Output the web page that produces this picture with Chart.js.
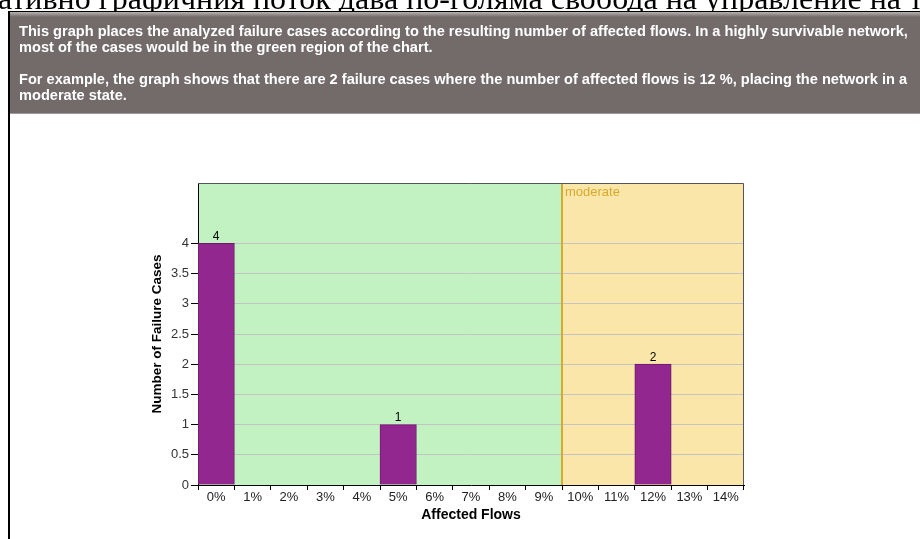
<!DOCTYPE html>
<html>
<head>
<meta charset="utf-8">
<script src="https://cdn.jsdelivr.net/npm/chart.js@4/dist/chart.umd.min.js"></script>
<style>
  html, body { margin:0; padding:0; width:920px; height:539px; overflow:hidden; background:#fff; }
  #cv { position:absolute; left:0; top:0; }
  #topline { position:absolute; left:-2px; top:-18px; white-space:nowrap; font-family:"Liberation Serif","DejaVu Serif",serif; font-size:32px; line-height:32px; color:#000; }
  #leftbar { position:absolute; left:8px; top:11px; width:2px; height:540px; background:#000; }
  #box { position:absolute; left:10px; top:11px; width:930px; height:101px; background:#736a6a; border-top:1px solid #000; border-bottom:1px solid #9a9a9a; }
  #box .shade { position:absolute; left:0; top:0; right:0; height:5px; background:linear-gradient(#b8b4b4,#736a6a); }
  #box p { position:absolute; left:9px; margin:0; font-family:"Liberation Sans",Arial,sans-serif; font-weight:bold; font-size:14.6px; line-height:15.5px; color:#fff; white-space:nowrap; }
</style>
</head>
<body>
<canvas id="cv" width="920" height="539"></canvas>
<div id="topline">ативно графичния поток дава по-голяма свобода на управление на т</div>
<div id="box"><div class="shade"></div>
  <p style="top:12px">This graph places the analyzed failure cases according to the resulting number of affected flows. In a highly survivable network,<br>most of the cases would be in the green region of the chart.</p>
  <p style="top:60px">For example, the graph shows that there are 2 failure cases where the number of affected flows is 12 %, placing the network in a<br>moderate state.</p>
</div>
<div id="leftbar"></div>
<script>
const categories = ['0%','1%','2%','3%','4%','5%','6%','7%','8%','9%','10%','11%','12%','13%','14%'];
const failureCases = [4,0,0,0,0,1,0,0,0,0,0,0,2,0,0];
const regionStarts = [0, 10];
const regionLabels = ['', 'moderate'];
const yMax = 5;
const yLastTick = 4;

const regionColors = ['#c2f1c2', '#fbe6a9'];
const FONT = '"Liberation Sans", Arial, sans-serif';

const regionPlugin = {
  id: 'regions',
  beforeDraw(chart) {
    const {ctx, chartArea: a, scales: {x}} = chart;
    const half = (x.getPixelForValue(1) - x.getPixelForValue(0)) / 2;
    ctx.save();
    regionStarts.forEach((s, i) => {
      const x0 = i === 0 ? a.left : x.getPixelForValue(s) - half;
      const x1 = i + 1 < regionStarts.length ? x.getPixelForValue(regionStarts[i + 1]) - half : a.right;
      ctx.fillStyle = regionColors[i];
      ctx.fillRect(x0, a.top, x1 - x0, a.bottom - a.top);
    });
    ctx.restore();
  },
  afterDatasetsDraw(chart) {
    const {ctx, chartArea: a, scales: {x}} = chart;
    const half = (x.getPixelForValue(1) - x.getPixelForValue(0)) / 2;
    ctx.save();
    regionStarts.forEach((s, i) => {
      if (i === 0) return;
      const px = Math.round(x.getPixelForValue(s) - half);
      ctx.strokeStyle = '#d6aa2c';
      ctx.lineWidth = 2;
      ctx.beginPath(); ctx.moveTo(px, a.top); ctx.lineTo(px, a.bottom); ctx.stroke();
      ctx.fillStyle = '#d6aa2c';
      ctx.font = '13px ' + FONT;
      ctx.textBaseline = 'top';
      ctx.textAlign = 'left';
      ctx.fillText(regionLabels[i], px + 3, a.top + 3);
    });
    ctx.strokeStyle = '#555';
    ctx.lineWidth = 1;
    ctx.beginPath();
    ctx.moveTo(a.left, a.top + 0.5); ctx.lineTo(a.right - 0.5, a.top + 0.5); ctx.lineTo(a.right - 0.5, a.bottom);
    ctx.stroke();
    const meta = chart.getDatasetMeta(0);
    ctx.fillStyle = '#000';
    ctx.font = '12px ' + FONT;
    ctx.textAlign = 'center';
    ctx.textBaseline = 'bottom';
    meta.data.forEach((el, i) => {
      const v = failureCases[i];
      if (!v) return;
      ctx.fillText(String(v), el.x, el.y - 1);
    });
    ctx.restore();
  }
};

new Chart(document.getElementById('cv'), {
  type: 'bar',
  data: {
    labels: categories,
    datasets: [{
      data: failureCases,
      backgroundColor: '#92278f',
      borderColor: '#6a1a68',
      borderWidth: 1,
      barPercentage: 1,
      categoryPercentage: 1
    }]
  },
  options: {
    responsive: false,
    animation: false,
    events: [],
    layout: { padding: { left: 145, top: 183, right: 176, bottom: 0 } },
    plugins: { legend: { display: false }, tooltip: { enabled: false } },
    scales: {
      x: {
        grid: { drawOnChartArea: false, drawTicks: true, tickLength: 5, tickColor: '#000', offset: true },
        border: { color: '#000', width: 1 },
        ticks: { color: '#222', font: { family: FONT, size: 13 }, padding: 0, maxRotation: 0, autoSkip: false },
        title: { display: true, text: 'Affected Flows', color: '#000', font: { family: FONT, size: 14, weight: 'bold' }, padding: { top: 4, bottom: 15 } },
        afterFit(s) { s.height = 54; }
      },
      y: {
        min: 0, max: yMax,
        grid: {
          color: (c) => c.tick && c.tick.value > yLastTick ? 'rgba(0,0,0,0)' : '#c4c4c4',
          drawTicks: true, tickLength: 7,
          tickColor: (c) => c.tick && c.tick.value > yLastTick ? 'rgba(0,0,0,0)' : '#000'
        },
        border: { color: '#000', width: 1 },
        ticks: {
          stepSize: 0.5,
          color: '#333',
          font: { family: FONT, size: 13 },
          padding: 2,
          callback: (v) => v > yLastTick ? '' : String(v)
        },
        title: { display: true, text: 'Number of Failure Cases', color: '#000', font: { family: FONT, size: 13.5, weight: 'bold' }, padding: { top: 4, bottom: 4 } },
        afterFit(s) { s.width = 53; }
      }
    }
  },
  plugins: [regionPlugin]
});
</script>
</body>
</html>
